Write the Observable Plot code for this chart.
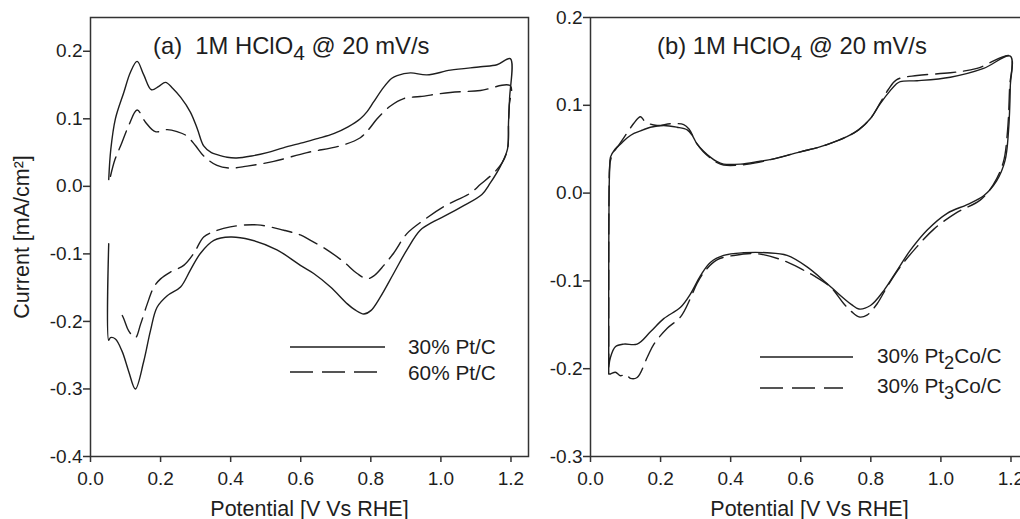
<!DOCTYPE html>
<html>
<head>
<meta charset="utf-8">
<script src="https://cdn.jsdelivr.net/npm/d3@7"></script>
<script src="https://cdn.jsdelivr.net/npm/@observablehq/plot@0.6"></script>
<style>
  html, body { margin: 0; padding: 0; background: #fff; overflow: hidden; }
  #wrap { position: relative; width: 1020px; height: 519px; overflow: hidden; background: #fff; }
  #wrap svg { position: absolute; top: 0; }
</style>
</head>
<body>
<div id="wrap"></div>
<script>
// ---------- data ----------
const xTicks = [0.0, 0.2, 0.4, 0.6, 0.8, 1.0, 1.2];
const yTicksA = [-0.4, -0.3, -0.2, -0.1, 0.0, 0.1, 0.2];
const yTicksB = [-0.3, -0.2, -0.1, 0.0, 0.1, 0.2];

const seriesA = ["30% Pt/C", "60% Pt/C"];
const seriesB = ["30% Pt2Co/C", "30% Pt3Co/C"];

// Panel (a) 30% Pt/C  (solid)
const potA30 = [0.052,0.058,0.071,0.095,0.114,0.133,0.152,0.174,0.195,0.214,0.235,0.257,0.285,0.305,0.323,0.345,0.361,0.39,0.417,0.46,0.504,0.55,0.6,0.65,0.694,0.735,0.77,0.79,0.808,0.837,0.86,0.875,0.913,0.96,1.027,1.113,1.16,1.198,
  1.196,1.193,1.19,1.17,1.141,1.117,1.06,1.018,0.98,0.941,0.903,0.865,0.827,0.8,0.78,0.755,0.733,0.685,0.637,0.599,0.532,0.456,0.399,0.352,0.314,0.285,0.257,0.219,0.19,0.171,0.152,0.128,0.109,0.09,0.071,0.057,0.052,0.052];
const curA30 = [0.01,0.055,0.1,0.139,0.169,0.185,0.165,0.143,0.148,0.154,0.145,0.132,0.11,0.085,0.06,0.05,0.047,0.043,0.042,0.045,0.05,0.057,0.064,0.071,0.078,0.088,0.1,0.111,0.125,0.147,0.16,0.164,0.168,0.165,0.172,0.177,0.18,0.189,
  0.13,0.095,0.055,0.03,0.005,-0.012,-0.03,-0.042,-0.052,-0.065,-0.094,-0.129,-0.164,-0.184,-0.189,-0.183,-0.174,-0.149,-0.129,-0.117,-0.094,-0.079,-0.075,-0.08,-0.099,-0.124,-0.149,-0.162,-0.179,-0.214,-0.259,-0.3,-0.274,-0.244,-0.226,-0.224,-0.228,-0.085];

// Panel (a) 60% Pt/C  (dashed)
const potA60 = [0.057,0.07,0.086,0.109,0.133,0.157,0.185,0.219,0.247,0.274,0.3,0.323,0.361,0.399,0.447,0.523,0.618,0.713,0.77,0.795,0.818,0.856,0.894,0.941,1.027,1.113,1.198,
  1.195,1.193,1.19,1.175,1.151,1.113,1.084,1.008,0.951,0.903,0.865,0.837,0.81,0.789,0.761,0.723,0.675,0.628,0.599,0.552,0.476,0.399,0.352,0.323,0.295,0.266,0.228,0.2,0.181,0.162,0.143,0.128,0.109,0.095,0.081];
const curA60 = [0.015,0.04,0.06,0.09,0.113,0.095,0.081,0.084,0.081,0.075,0.06,0.045,0.031,0.027,0.03,0.037,0.05,0.06,0.072,0.085,0.1,0.119,0.13,0.133,0.139,0.142,0.149,
  0.12,0.095,0.055,0.035,0.02,0.003,-0.01,-0.03,-0.05,-0.07,-0.099,-0.117,-0.132,-0.137,-0.129,-0.112,-0.094,-0.08,-0.072,-0.065,-0.057,-0.06,-0.067,-0.075,-0.099,-0.117,-0.127,-0.137,-0.149,-0.174,-0.204,-0.224,-0.214,-0.196,-0.181];

// Panel (b) 30% Pt2Co/C  (solid)
const potB2 = [0.052,0.052,0.053,0.055,0.057,0.07,0.086,0.105,0.124,0.15,0.171,0.209,0.247,0.276,0.29,0.304,0.322,0.342,0.36,0.38,0.428,0.48,0.523,0.599,0.65,0.694,0.73,0.765,0.799,0.827,0.856,0.872,0.884,0.932,1.027,1.122,1.198,
  1.198,1.193,1.183,1.159,1.122,1.075,1.018,0.961,0.913,0.875,0.837,0.799,0.766,0.745,0.723,0.675,0.618,0.561,0.504,0.437,0.38,0.342,0.314,0.285,0.257,0.209,0.171,0.133,0.095,0.071,0.057,0.052];
const curB2 = [-0.198,-0.1,0.0,0.03,0.041,0.05,0.056,0.063,0.068,0.072,0.075,0.077,0.075,0.072,0.066,0.056,0.048,0.041,0.036,0.033,0.033,0.036,0.039,0.047,0.052,0.058,0.064,0.072,0.085,0.102,0.117,0.124,0.127,0.128,0.132,0.142,0.156,
  0.121,0.071,0.037,0.014,-0.003,-0.013,-0.023,-0.042,-0.065,-0.088,-0.111,-0.128,-0.132,-0.127,-0.12,-0.103,-0.084,-0.071,-0.068,-0.068,-0.071,-0.079,-0.094,-0.115,-0.13,-0.143,-0.158,-0.172,-0.172,-0.175,-0.187,-0.198];

// Panel (b) 30% Pt3Co/C  (dashed)
const potB3 = [0.052,0.052,0.053,0.056,0.065,0.076,0.1,0.119,0.135,0.143,0.157,0.19,0.228,0.266,0.281,0.304,0.322,0.342,0.36,0.38,0.428,0.48,0.523,0.599,0.65,0.694,0.73,0.765,0.799,0.827,0.85,0.873,0.932,1.027,1.103,1.198,
  1.196,1.19,1.178,1.15,1.112,1.046,0.98,0.932,0.884,0.846,0.818,0.789,0.766,0.745,0.723,0.685,0.637,0.609,0.552,0.475,0.409,0.361,0.328,0.304,0.285,0.257,0.219,0.181,0.162,0.133,0.114,0.1,0.086,0.071,0.057,0.052];
const curB3 = [-0.206,-0.1,0.0,0.035,0.046,0.052,0.066,0.077,0.085,0.087,0.081,0.077,0.079,0.078,0.073,0.056,0.047,0.04,0.035,0.032,0.032,0.035,0.039,0.047,0.052,0.058,0.064,0.072,0.085,0.103,0.118,0.129,0.134,0.137,0.142,0.156,
  0.12,0.07,0.035,0.01,-0.008,-0.022,-0.041,-0.061,-0.084,-0.107,-0.126,-0.139,-0.141,-0.135,-0.126,-0.107,-0.094,-0.088,-0.077,-0.069,-0.071,-0.076,-0.088,-0.103,-0.12,-0.141,-0.154,-0.172,-0.187,-0.21,-0.211,-0.206,-0.208,-0.204,-0.206,-0.206];

// ---------- helpers ----------
const FONT = "'Liberation Sans', Arial, Helvetica, sans-serif";
const INK = "#1e1e1e";
const toRows = (v, c) => v.map((d, i) => ({V: d, I: c[i]}));
const fmt = d => d.toFixed(1);
const DASH = "20,8";
const TICK_FS = 19;
const TITLE_FS = 21.5;

function panel({yDomain, yTicks, solid, dashed, left, width, marginLeft, yLabel}) {
  const marks = [
    Plot.line(toRows(solid[0], solid[1]), {x: "V", y: "I", stroke: INK, strokeWidth: 1.4, curve: "catmull-rom"}),
    Plot.line(toRows(dashed[0], dashed[1]), {x: "V", y: "I", stroke: INK, strokeWidth: 1.4, strokeDasharray: DASH, curve: "catmull-rom"}),
    Plot.frame({stroke: "#333", strokeWidth: 1.5}),
    Plot.axisX({ticks: xTicks, tickFormat: fmt, tickSize: 6, tickPadding: 9, fontSize: TICK_FS, label: null, stroke: "#333", strokeWidth: 1.5, color: INK}),
    Plot.axisY({ticks: yTicks, tickFormat: fmt, tickSize: 7, tickPadding: 1, fontSize: TICK_FS, label: null, stroke: "#333", strokeWidth: 1.5, color: INK}),
    Plot.text(["Potential [V Vs RHE]"], {frameAnchor: "bottom", textAnchor: "middle", lineAnchor: "bottom", dy: 59, text: d => d, fontSize: TITLE_FS, fill: INK})
  ];
  if (yLabel) {
    marks.push(Plot.text([yLabel], {frameAnchor: "left", textAnchor: "middle", rotate: -90, dx: -68, lineAnchor: "middle", text: d => d, fontSize: TITLE_FS, fill: INK}));
  }
  const svg = Plot.plot({
    width, height: 519,
    marginLeft, marginRight: 12, marginTop: 17, marginBottom: 63,
    x: {domain: [0, 1.25]},
    y: {domain: yDomain},
    style: {fontFamily: FONT, fontSize: TICK_FS + "px", color: INK, background: "white", overflow: "visible"},
    marks
  });
  svg.style.left = left + "px";
  return svg;
}

function richText(svg, x, y, parts, size) {
  const t = d3.select(svg).append("text")
    .attr("x", x).attr("y", y)
    .attr("text-anchor", "start")
    .attr("font-family", FONT).attr("font-size", size).attr("fill", INK)
    .style("white-space", "pre");
  let shift = 0;
  for (const [s, sub] of parts) {
    const target = sub ? 6 : 0;
    const ts = t.append("tspan").text(s).attr("dy", target - shift);
    if (sub) ts.attr("font-size", size * 0.88);
    shift = target;
  }
}

function legend(svg, x0, x1, y, dashed) {
  d3.select(svg).append("line")
    .attr("x1", x0).attr("x2", x1).attr("y1", y).attr("y2", y)
    .attr("stroke", INK).attr("stroke-width", 1.5)
    .attr("stroke-dasharray", dashed ? "23,9" : null);
}

const wrap = document.getElementById("wrap");

// Panel (a)
const svgA = panel({
  yDomain: [-0.4, 0.25], yTicks: yTicksA,
  solid: [potA30, curA30], dashed: [potA60, curA60],
  left: 0, width: 540, marginLeft: 90, yLabel: "Current [mA/cm²]"
});
wrap.appendChild(svgA);
richText(svgA, 153, 54, [["(a)  1M HClO", false], ["4", true], [" @ 20 mV/s", false]], 23.8);
legend(svgA, 290, 385, 347, false);
legend(svgA, 290, 378, 372, true);
richText(svgA, 408, 354, [[seriesA[0], false]], 20.8);
richText(svgA, 408, 380, [[seriesA[1], false]], 20.8);

// Panel (b)
const svgB = panel({
  yDomain: [-0.3, 0.2], yTicks: yTicksB,
  solid: [potB2, curB2], dashed: [potB3, curB3],
  left: 540, width: 500, marginLeft: 50, yLabel: null
});
wrap.appendChild(svgB);
const bx = 540;
richText(svgB, 657 - bx, 54, [["(b) 1M HClO", false], ["4", true], [" @ 20 mV/s", false]], 23.8);
legend(svgB, 760 - bx, 853 - bx, 357, false);
legend(svgB, 760 - bx, 843 - bx, 388, true);
richText(svgB, 877 - bx, 363, [["30% Pt", false], ["2", true], ["Co/C", false]], 20.8);
richText(svgB, 877 - bx, 393, [["30% Pt", false], ["3", true], ["Co/C", false]], 20.8);
</script>
</body>
</html>
